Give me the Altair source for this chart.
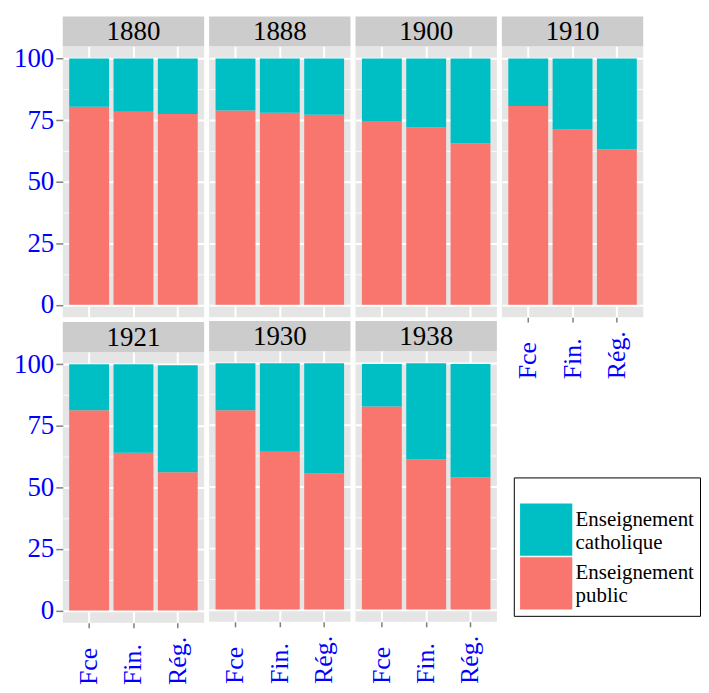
import altair as alt
import pandas as pd

years = ["1880", "1888", "1900", "1910", "1921", "1930", "1938"]
regions = ["Fce", "Fin.", "Rég."]
types = ["Enseignement catholique", "Enseignement public"]

# share of pupils (%) per year, for Fce / Fin. / Rég.
public_1880 = [80.4, 78.4, 77.5]
public_1888 = [78.9, 78.0, 77.2]
public_1900 = [74.4, 72.0, 65.6]
public_1910 = [80.8, 71.2, 63.2]
public_1921 = [81.3, 64.1, 56.1]
public_1930 = [80.9, 64.1, 55.2]
public_1938 = [82.5, 60.9, 53.7]

catho_1880 = [19.6, 21.6, 22.5]
catho_1888 = [21.1, 22.0, 22.8]
catho_1900 = [25.6, 28.0, 34.4]
catho_1910 = [19.2, 28.8, 36.8]
catho_1921 = [18.7, 35.9, 43.5]
catho_1930 = [19.1, 35.9, 44.8]
catho_1938 = [17.2, 39.1, 46.0]

y_ticks = [0, 12.5, 25, 37.5, 50, 62.5, 75, 87.5, 100]

public_all = [public_1880, public_1888, public_1900, public_1910, public_1921, public_1930, public_1938]
catho_all = [catho_1880, catho_1888, catho_1900, catho_1910, catho_1921, catho_1930, catho_1938]

rows = []
for yr, pub, cat in zip(years, public_all, catho_all):
    for r, p, c in zip(regions, pub, cat):
        rows.append({"year": yr, "region": r, "type": types[1], "value": p, "ord": 0})
        rows.append({"year": yr, "region": r, "type": types[0], "value": c, "ord": 1})
df = pd.DataFrame(rows)

W, H = 142, 272
SERIF = "Liberation Serif"
BLUE = "#0000FF"
TEAL = "#00BFC4"
RED = "#F8766D"

grid_w = {"condition": {"test": "datum.value % 25 === 0", "value": 2}, "value": 0.8}
tick_op = {"condition": {"test": "datum.value % 25 === 0", "value": 1}, "value": 0}


def panel(year, show_y, show_x):
    sub = df[df["year"] == year]
    if show_y:
        yax = alt.Axis(values=y_ticks, title=None, grid=True, gridColor="white",
                       gridWidth=grid_w, tickOpacity=tick_op, tickSize=7, tickWidth=1.5,
                       tickColor="#7F7F7F", labelPadding=2, labelColor=BLUE,
                       labelFont=SERIF, labelFontSize=27, domain=False,
                       labelExpr="datum.value % 25 === 0 ? datum.label : ''")
    else:
        yax = alt.Axis(values=y_ticks, title=None, grid=True, gridColor="white",
                       gridWidth=grid_w, labels=False, ticks=False, domain=False)
    xax = alt.Axis(title=None, grid=True, gridColor="white", gridWidth=2, bandPosition=0.5,
                   domain=False, labels=show_x, ticks=show_x, tickSize=5, tickWidth=1.5,
                   tickColor="#7F7F7F", labelAngle=-90, labelAlign="left",
                   labelBaseline="middle", labelPadding=57, labelColor=BLUE,
                   labelFont=SERIF, labelFontSize=26)
    bars = alt.Chart(sub).mark_bar().encode(
        x=alt.X("region:N", sort=regions, axis=xax,
                scale=alt.Scale(paddingInner=0.1, paddingOuter=0.145)),
        y=alt.Y("value:Q", stack="zero", axis=yax,
                scale=alt.Scale(domain=[-5, 105], nice=False, zero=False)),
        color=alt.Color("type:N", scale=alt.Scale(domain=types, range=[TEAL, RED]),
                        legend=alt.Legend(
                            title=" ", titleFontSize=16, titlePadding=4,
                            orient="none", legendX=453, legendY=433,
                            symbolType="square", symbolSize=2750,
                            symbolStrokeWidth=0, symbolOpacity=1,
                            labelFont=SERIF, labelFontSize=21, labelColor="black",
                            labelBaseline="bottom",
                            labelExpr="split(datum.label, ' ')", labelLimit=400,
                            labelOffset=3, rowPadding=1,
                            strokeColor="black", fillColor="white", padding=6,
                            cornerRadius=0)),
        order=alt.Order("ord:Q"),
    )
    one = pd.DataFrame({"year": [year]})
    strip = alt.Chart(one).mark_rect(color="#CCCCCC").encode(
        x=alt.value(0), x2=alt.value(W), y=alt.value(-30), y2=alt.value(0))
    label = alt.Chart(one).mark_text(font=SERIF, fontSize=27, color="black",
                                     baseline="middle", align="center").encode(
        x=alt.value(W / 2), y=alt.value(-14), text="year:N")
    return alt.layer(bars, strip, label).properties(width=W, height=H)


col1 = alt.vconcat(panel("1880", True, False), panel("1921", True, True), spacing=4)
col2 = alt.vconcat(panel("1888", False, False), panel("1930", False, True), spacing=4)
col3 = alt.vconcat(panel("1900", False, False), panel("1938", False, True), spacing=4)
col4 = panel("1910", False, True)

chart = alt.hconcat(col1, col2, col3, col4, spacing=5).properties(
    padding={"left": 5, "top": 7, "right": 0, "bottom": 0}
).configure_view(fill="#E5E5E5", stroke=None)

chart.save("out.html", embed_options={"renderer": "svg", "actions": False})
